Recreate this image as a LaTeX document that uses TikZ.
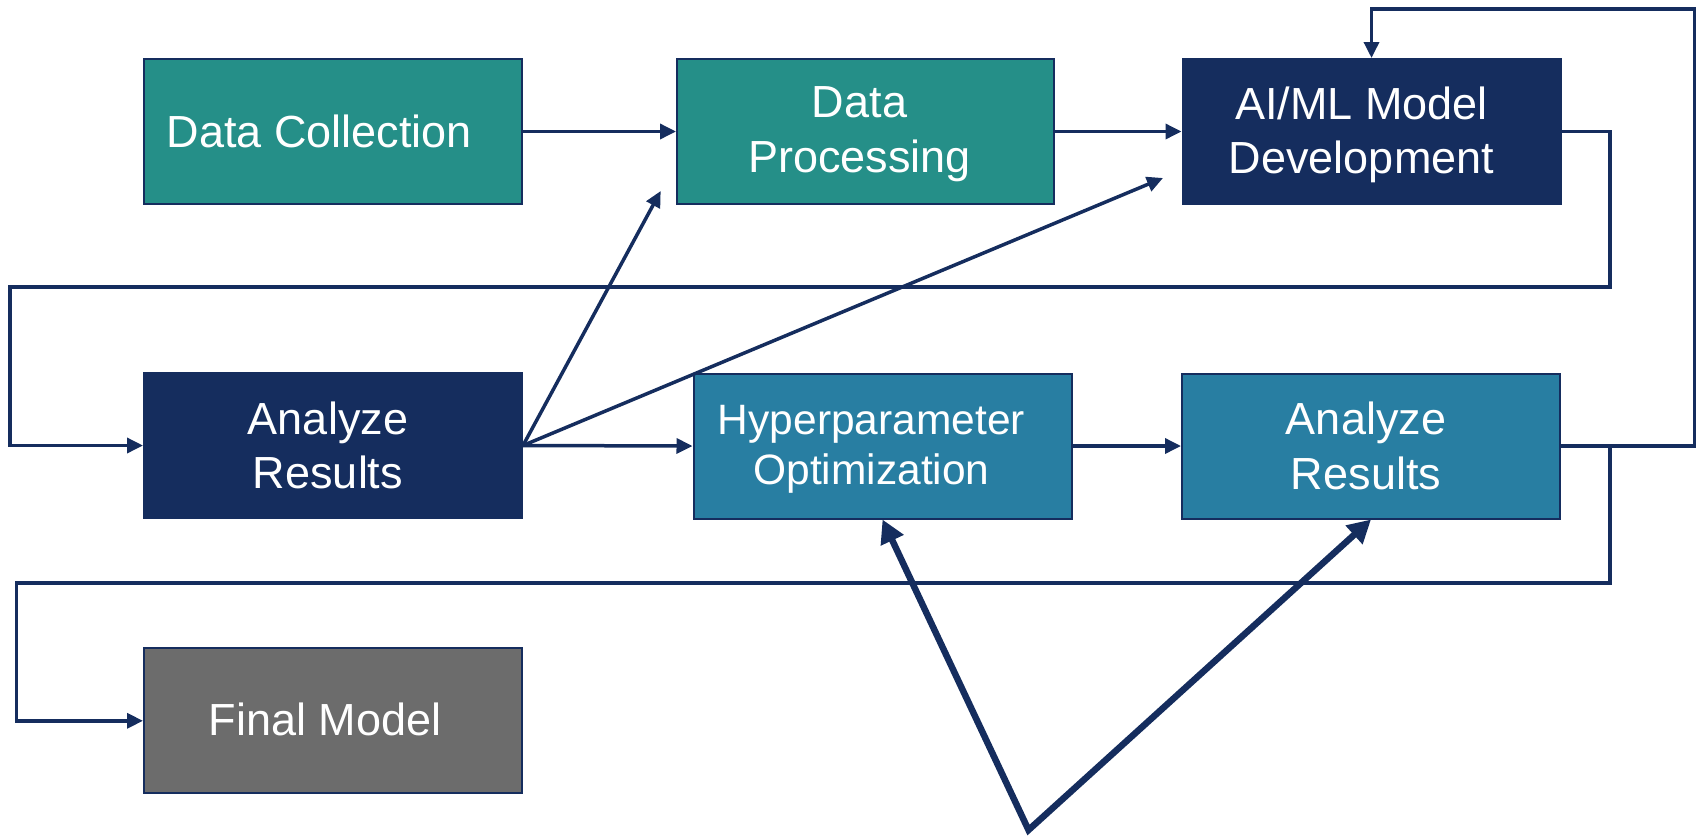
\documentclass[tikz,border=0pt]{standalone}
\usepackage{fontspec}
\setmainfont{Liberation Sans}
\usetikzlibrary{arrows.meta}
\definecolor{navy}{RGB}{21,45,94}
\definecolor{tealbox}{RGB}{37,143,136}
\definecolor{steelbox}{RGB}{40,126,162}
\definecolor{slatebox}{RGB}{108,108,108}
\begin{document}
\begin{tikzpicture}[x=1pt,y=-1pt,
  stage/.style={draw=navy, line width=2pt, minimum width=378pt, minimum height=145pt, inner sep=0pt},
  stagetext/.style={text=white, font=\fontsize{45}{54.7}\selectfont, align=center, inner sep=0pt},
  flow/.style={draw=navy, line width=3.5pt, line join=miter, -{Triangle[length=16pt,width=15pt]}},
  boldflow/.style={draw=navy, line width=6.5pt, line join=miter,
    {Triangle[length=23pt,width=24pt]}-{Triangle[length=23pt,width=24pt]}},
]
\useasboundingbox (0,0) rectangle (1697,839);

% stages
\node[stage, fill=tealbox] (dc) at (333,131.5) {};
\node[stage, fill=tealbox, minimum width=377pt] (dp) at (865.5,131.5) {};
\node[stage, fill=navy] (ai) at (1371.5,131.5) {};
\node[stage, fill=navy] (ar1) at (333,445.5) {};
\node[stage, fill=steelbox] (hp) at (882.5,446) {};
\node[stage, fill=steelbox] (ar2) at (1371,446) {};
\node[stage, fill=slatebox] (fm) at (333,720.8) {};

% stage captions
\node[stagetext] (dc-t) at ([xshift=-13.5pt]dc.center) {Data Collection};
\node[stagetext] (dp-t) at ([xshift=-6pt,yshift=-3pt]dp.center) {Data\\Processing};
\node[stagetext] (ai-t) at ([xshift=-10pt,yshift=-3.5pt]ai.center) {AI/ML Model\\Development};
\node[stagetext] (ar1-t) at ([xshift=-5pt]ar1.center) {Analyze\\Results};
\node[stagetext, font=\fontsize{42.5}{50}\selectfont] (hp-t) at ([xshift=-11pt,yshift=-3pt]hp.center) {Hyperparameter\\Optimization};
\node[stagetext] (ar2-t) at ([xshift=-5pt]ar2.center) {Analyze\\Results};
\node[stagetext] (fm-t) at ([xshift=-8pt,yshift=1.5pt]fm.center) {Final Model};

% free ends and branch points
\coordinate (dptip) at (660.7,191);
\coordinate (aitip) at (1163,178);
\coordinate (split) at (1610,446);
\coordinate (apex) at (1028.5,830);

% top row
\draw[flow] (dc.east) -- (dp.west);
\draw[flow] (dp.east) -- (ai.west);

% development loops back to the first analysis
\draw[flow] (ai.east) -- (1610,131.5) -- (1610,287) -| (10,445.5) -- (ar1.west);

% fan-out from the first analysis
\draw[flow] (ar1.east) -- (dptip);
\draw[flow] (ar1.east) -- (aitip);
\draw[flow] (ar1.east) -- (hp.west);
\draw[flow] (hp.east) -- (ar2.west);

% second analysis feeds back to development
\draw[flow] (ar2.east) -- (1694.5,446) -- (1694.5,9) -| (ai.north);

% second analysis leads to the final model
\draw[flow] (split) -- (1610,583) -| (16.5,720.8) -- (fm.west);

% V-shaped double arrow
\draw[boldflow] (hp.south) -- (apex) -- (ar2.south);
\end{tikzpicture}
\end{document}
